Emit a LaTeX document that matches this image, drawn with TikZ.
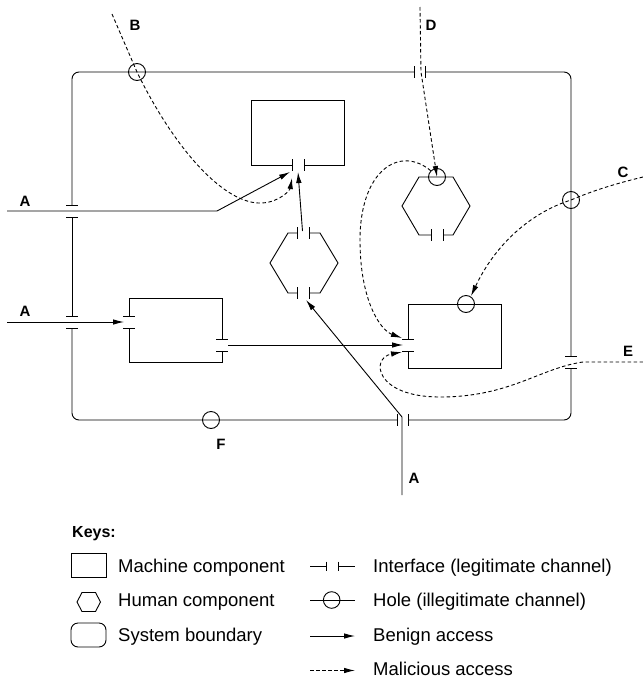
\documentclass[tikz,border=0pt]{standalone}
\usepackage{fontspec}
\setmainfont{Liberation Sans}
\usetikzlibrary{arrows.meta}
\begin{document}
\begin{tikzpicture}[x=1pt,y=-1pt,
  ln/.style={line width=0.9pt},
  tick/.style={line width=0.9pt},
  benign/.style={line width=0.9pt,-{Latex[length=11pt,width=5.5pt]}},
  malic/.style={line width=0.9pt,dash pattern=on 3.5pt off 2.5pt,-{Latex[length=11pt,width=5.5pt]}},
  hole/.style={circle,draw,line width=0.9pt,minimum size=17pt,inner sep=0pt},
  lbl/.style={font=\fontsize{15}{18}\selectfont\bfseries,inner sep=0pt},
  keytxt/.style={font=\fontsize{18.5}{22}\selectfont,anchor=base west,inner sep=0pt},
]
\useasboundingbox (0,0) rectangle (643,678);

% system boundary
\draw[ln,rounded corners=7pt] (414,72) -- (72,72) -- (72,205);
\draw[ln] (72,217) -- (72,316);
\draw[ln,rounded corners=7pt] (72,328) -- (72,420) -- (397,420);
\draw[ln,rounded corners=7pt] (408,420) -- (571,420) -- (571,368);
\draw[ln,rounded corners=7pt] (571,356) -- (571,72) -- (425,72);
\foreach \x in {414,425} \draw[tick] (\x,66) -- (\x,78);
\foreach \y in {205,217,316,328} \draw[tick] (66,\y) -- (78,\y);
\foreach \y in {356,368} \draw[tick] (565,\y) -- (577,\y);
\foreach \x in {397,408} \draw[tick] (\x,414) -- (\x,426);

% machine component 1
\draw[ln] (292,165) -- (251,165) -- (251,100) -- (344,100) -- (344,165) -- (304,165);
\foreach \x in {292,304} \draw[tick] (\x,159) -- (\x,171);

% human component 1
\draw[ln] (431,235) -- (419,235) -- (402,206) -- (419,177) -- (453,177) -- (470,206) -- (453,235) -- (443,235);
\foreach \x in {431,443} \draw[tick] (\x,229) -- (\x,241);

% human component 2
\draw[ln] (297,233) -- (288,233) -- (270,263) -- (288,293) -- (297,293);
\draw[ln] (309,233) -- (320,233) -- (338,263) -- (320,293) -- (309,293);
\foreach \x in {297,309} {\draw[tick] (\x,227) -- (\x,239); \draw[tick] (\x,287) -- (\x,299);}

% machine component 2
\draw[ln] (129,316) -- (129,298) -- (222,298) -- (222,339);
\draw[ln] (222,351) -- (222,362) -- (129,362) -- (129,328);
\foreach \y in {316,328} \draw[tick] (123,\y) -- (135,\y);
\foreach \y in {339,351} \draw[tick] (216,\y) -- (228,\y);

% machine component 3
\draw[ln] (408,339) -- (408,304) -- (501,304) -- (501,368) -- (408,368) -- (408,351);
\foreach \y in {339,351} \draw[tick] (402,\y) -- (414,\y);

% holes
\node[hole] (hB) at (137,72) {};
\node[hole] (hC) at (571,200) {};
\node[hole] (hF) at (211,420) {};
\node[hole] (hH) at (437,177) {};
\node[hole] (hM) at (466,304) {};

% connection points
\coordinate (aIn1) at (7,211);
\coordinate (aBend1) at (217,211);
\coordinate (m1a) at (290,172);
\coordinate (m1b) at (292,178);
\coordinate (m1c) at (298,172);
\coordinate (h2top) at (302.5,231);
\coordinate (h2bot) at (306,300);
\coordinate (aIn2) at (7,322);
\coordinate (m2in) at (124,322);
\coordinate (m2out) at (228,345);
\coordinate (m3a) at (402,338);
\coordinate (m3b) at (403,345);
\coordinate (m3c) at (402,352);
\coordinate (aIn3) at (402,495);
\coordinate (aBend3) at (402,417);
\coordinate (bStart) at (112,14);
\coordinate (dStart) at (420,7);
\coordinate (dBd) at (421,72);
\coordinate (cStart) at (643,177);
\coordinate (eStart) at (643,362);
\coordinate (eGap) at (583,362);
\coordinate (m3top) at (471,296);

% benign access
\draw[benign] (aIn1) -- (aBend1) -- (m1a);
\draw[benign] (h2top) -- (m1c);
\draw[benign] (aIn2) -- (m2in);
\draw[benign] (m2out) -- (m3b);
\draw[benign] (aIn3) -- (aBend3) -- (h2bot);

% malicious access
\draw[malic] (bStart) -- (hB.center) .. controls (175,150) and (225,205) .. (262,203) .. controls (280,202) and (290,190) .. (m1b);
\draw[malic] (dStart) -- (dBd) -- (hH.center);
\draw[malic] (hH.135) .. controls (400,145) and (360,170) .. (360,240) .. controls (360,300) and (380,330) .. (m3a);
\draw[malic] (cStart) .. controls (610,185) and (590,192) .. (hC.center) .. controls (530,213) and (495,245) .. (m3top);
\draw[malic] (eStart) -- (eGap) .. controls (540,368) and (510,397) .. (440,397) .. controls (375,397) and (370,358) .. (m3c);

% labels
\node[lbl] (lA1) at (25,201) {A};
\node[lbl] (lA2) at (25,311) {A};
\node[lbl] (lA3) at (414,478) {A};
\node[lbl] (lB) at (135,25) {B};
\node[lbl] (lC) at (623,172) {C};
\node[lbl] (lD) at (431,25) {D};
\node[lbl] (lE) at (628,351) {E};
\node[lbl] (lF) at (221,444) {F};

% legend
\node[font=\fontsize{16}{19}\selectfont\bfseries,anchor=base west,inner sep=0pt] (keys) at (72,537) {Keys:};
\draw[ln] (71,553) rectangle (106,577);
\node[keytxt] (k1) at (118,572) {Machine component};
\draw[ln] (77,602) -- (82,592.5) -- (95.5,592.5) -- (100.5,602) -- (95.5,611.5) -- (82,611.5) -- cycle;
\node[keytxt] (k2) at (118,606) {Human component};
\draw[ln,rounded corners=7pt] (71,623) rectangle (106,647);
\node[keytxt] (k3) at (118,641) {System boundary};

\draw[ln] (310,566) -- (326.7,566) (326.7,561.5) -- (326.7,570.5) (338.3,561.5) -- (338.3,570.5) (338.3,566) -- (355,566);
\node[keytxt] (k4) at (373,572) {Interface (legitimate channel)};
\draw[ln] (310,600) -- (355,600);
\draw[ln] (331.7,600) circle[radius=8.3pt];
\node[keytxt] (k5) at (373,606) {Hole (illegitimate channel)};
\coordinate (kb1) at (310,636);
\coordinate (kb2) at (355,636);
\draw[benign] (kb1) -- (kb2);
\node[keytxt] (k6) at (373,641) {Benign access};
\coordinate (km1) at (310,670.5);
\coordinate (km2) at (355,670.5);
\draw[malic] (km1) -- (km2);
\node[keytxt] (k7) at (373,675) {Malicious access};
\end{tikzpicture}
\end{document}
